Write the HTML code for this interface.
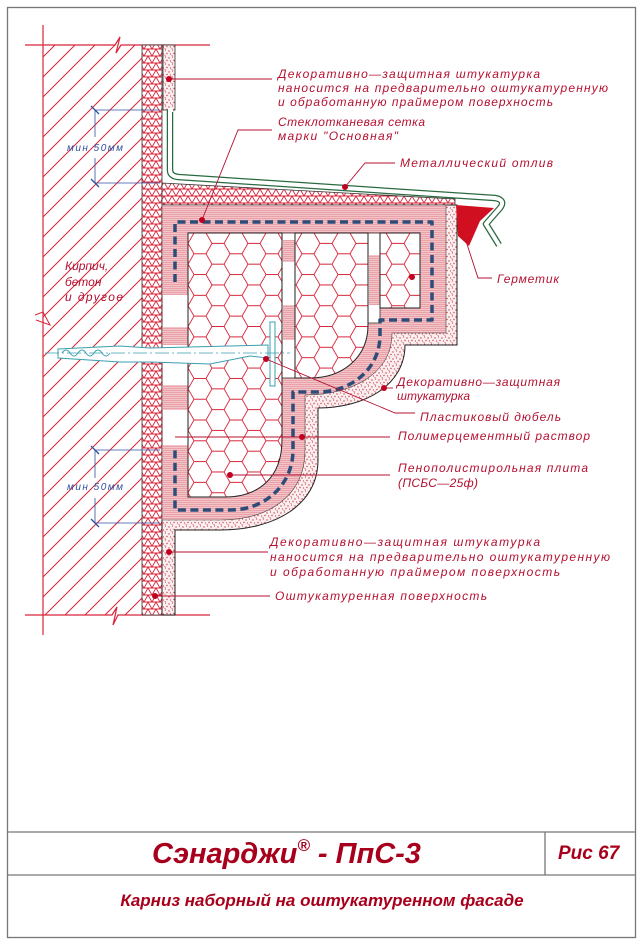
<!DOCTYPE html>
<html><head><meta charset="utf-8"><style>
html,body{margin:0;padding:0;background:#fff}
svg{display:block}
.t{font-family:"Liberation Sans",sans-serif;font-style:italic;font-size:12px;fill:#b41030}
</style></head><body>
<svg width="642" height="944" viewBox="0 0 642 944" xmlns="http://www.w3.org/2000/svg">
<defs>
<pattern id="hatch" width="20" height="20" patternUnits="userSpaceOnUse">
<path d="M-2,22 L22,-2 M-2,2 L2,-2 M18,22 L22,18" stroke="#d8253a" stroke-width="1"/>
</pattern>
<pattern id="tri" width="8" height="7" patternUnits="userSpaceOnUse">
<rect width="8" height="7" fill="#fff"/>
<path d="M0,0 L8,0 M0,7 L8,7 M0,7 L4,0 L8,7 M-4,0 L0,7 M8,0 L12,7" fill="none" stroke="#d8253a" stroke-width="0.9"/>
</pattern>
<pattern id="pinkl" width="4" height="2" patternUnits="userSpaceOnUse">
<rect width="4" height="2" fill="#f2c4c8"/>
<rect width="4" height="0.8" fill="#e79aa2"/>
</pattern>
<pattern id="speck" width="7" height="7" patternUnits="userSpaceOnUse">
<rect width="7" height="7" fill="#fbeeee"/>
<circle cx="1" cy="2" r="0.7" fill="#c84050"/><circle cx="4.5" cy="1" r="0.6" fill="#c84050"/>
<circle cx="6" cy="4.5" r="0.7" fill="#c84050"/><circle cx="2.5" cy="5" r="0.6" fill="#c84050"/>
<circle cx="4" cy="6.5" r="0.5" fill="#c84050"/>
</pattern>
<pattern id="hex" width="36" height="20.78" patternUnits="userSpaceOnUse" x="188" y="233">
<rect width="36" height="20.78" fill="#fff"/>
<path d="M0,10.39 L6,0 L18,0 L24,10.39 L18,20.78 L6,20.78 Z M24,10.39 L36,10.39" fill="none" stroke="#d8253a" stroke-width="0.9"/>
</pattern>
</defs>

<rect x="7.5" y="7.5" width="628" height="930" fill="none" stroke="#777" stroke-width="1.3"/>
<line x1="7" y1="832" x2="636" y2="832" stroke="#777" stroke-width="1.3"/>
<line x1="7" y1="875" x2="636" y2="875" stroke="#777" stroke-width="1.3"/>
<line x1="545" y1="832" x2="545" y2="875" stroke="#777" stroke-width="1.3"/>

<rect x="43" y="45" width="99" height="570" fill="url(#hatch)"/>
<line x1="43" y1="25" x2="43" y2="635" stroke="#d8253a" stroke-width="1.2"/>
<polyline points="25,45 115,45 120,37 116,53 121,45 210,45" fill="none" stroke="#d8253a" stroke-width="1.2"/>
<polyline points="25,615 112,615 117,607 113,625 118,615 210,615" fill="none" stroke="#d8253a" stroke-width="1.2"/>
<polyline points="35,315 43,312 50,325 36,320" fill="none" stroke="#d8253a" stroke-width="1"/>
<rect x="142" y="45" width="20" height="570" fill="url(#tri)" stroke="#333" stroke-width="0.8"/>
<rect x="163" y="45" width="12" height="65" fill="url(#speck)" stroke="#333" stroke-width="0.8"/>

<polygon points="162,183 455,199 455,205 162,205" fill="url(#tri)" stroke="#333" stroke-width="0.8"/>

<path d="M162,205 H457 V345 H405 C405,385 365,408 318,408 V460 C318,505 275,530 220,530 H175 V615 H162 Z" fill="url(#speck)" stroke="#222" stroke-width="1"/>
<path d="M162,205 H446 V333 H392 C392,375 350,395 305,395 V450 C305,495 270,520 220,520 H162 Z" fill="url(#pinkl)" stroke="#444" stroke-width="0.6"/>
<rect x="163" y="295" width="25" height="32" fill="#fff"/>
<rect x="163" y="345" width="25" height="40" fill="#fff"/>
<rect x="163" y="410" width="25" height="35" fill="#fff"/>
<rect x="282" y="233" width="13" height="145" fill="#fff" stroke="#333" stroke-width="0.8"/>
<rect x="283" y="240" width="12" height="22" fill="url(#pinkl)"/>
<rect x="283" y="305" width="12" height="35" fill="url(#pinkl)"/>
<rect x="368" y="233" width="12" height="90" fill="#fff" stroke="#333" stroke-width="0.8"/>
<rect x="369" y="255" width="11" height="50" fill="url(#pinkl)"/>
<path d="M188,233 H282 V440 C282,478 258,497 225,497 H188 Z" fill="url(#hex)" stroke="#222" stroke-width="1"/>
<path d="M295,233 H368 V325 C368,358 342,378 310,378 H295 Z" fill="url(#hex)" stroke="#222" stroke-width="1"/>
<rect x="380" y="233" width="40" height="75" fill="url(#hex)" stroke="#222" stroke-width="1"/>

<path d="M175,282 V222 H432 V320 H380 V335 C380,370 350,392 318,392 H293 V450 C293,485 265,510 230,510 H175 V448" fill="none" stroke="#2e4c78" stroke-width="3.5" stroke-dasharray="8 4.5" stroke-linejoin="round"/>

<path d="M170,110 V170 Q170,176 178,177 L495,198 Q506,200 500,208 L486,224 L499,245" fill="none" stroke="#2a6a40" stroke-width="6.5" stroke-linejoin="round"/>
<path d="M170,110 V170 Q170,176 178,177 L495,198 Q506,200 500,208 L486,224 L499,245" fill="none" stroke="#fff" stroke-width="4" stroke-linejoin="round"/>
<rect x="168" y="108" width="5" height="4" fill="#fff"/>
<polygon points="456,205 494,208 480,221 469,246 458,236" fill="#d01020"/>

<path d="M58,349 L120,346 L150,348 L268,345 L268,358 L250,356 L210,364 L150,362 L120,362 L58,358 Z" fill="#fff" stroke="#3aa0b0" stroke-width="1"/>
<path d="M62,353 q4,-6 8,0 q4,6 8,0 q4,-6 8,0 q4,6 8,0 q4,-6 8,0 q4,6 8,0" fill="none" stroke="#3aa0b0" stroke-width="1"/>
<rect x="270" y="322" width="5" height="64" fill="#fff" stroke="#3aa0b0" stroke-width="1"/>
<line x1="45" y1="353" x2="290" y2="353" stroke="#3aa0b0" stroke-width="0.8" stroke-dasharray="14 3 2 3"/>

<g stroke="#3050a0" stroke-width="0.8" fill="none">
<line x1="95" y1="110" x2="95" y2="137"/><line x1="95" y1="158" x2="95" y2="183"/>
<line x1="95" y1="110" x2="160" y2="110"/><line x1="95" y1="183" x2="160" y2="183"/>
<path d="M91,106 L99,114 M91,179 L99,187" stroke-width="1.3"/>
<line x1="95" y1="450" x2="95" y2="478"/><line x1="95" y1="498" x2="95" y2="523"/>
<line x1="95" y1="450" x2="160" y2="450"/><line x1="95" y1="523" x2="160" y2="523"/>
<path d="M91,446 L99,454 M91,519 L99,527" stroke-width="1.3"/>
</g>
<text x="67" y="151" class="t" style="fill:#3050a0;font-size:10px" textLength="56" lengthAdjust="spacing">мин 50мм</text>
<text x="67" y="490" class="t" style="fill:#3050a0;font-size:10px" textLength="56" lengthAdjust="spacing">мин 50мм</text>

<text x="65" y="270" class="t" font-size="13">Кирпич,</text>
<text x="65" y="286" class="t">бетон</text>
<text x="65" y="301" class="t" textLength="58" lengthAdjust="spacing">и другое</text>

<g stroke="#b41030" stroke-width="0.9" fill="none">
<line x1="169" y1="79" x2="272" y2="79"/>
<polyline points="202,220 238,130 272,130"/>
<polyline points="345,187 365,163 395,163"/>
<polyline points="465,238 478,278 492,278"/>
<line x1="384" y1="388" x2="393" y2="388"/>
<polyline points="266,359 395,413 415,413"/>
<line x1="175" y1="437" x2="390" y2="437"/>
<line x1="230" y1="475" x2="390" y2="475"/>
<line x1="169" y1="552" x2="268" y2="552"/>
<line x1="155" y1="596" x2="270" y2="596"/>
</g>
<g fill="#c00020">
<circle cx="169" cy="79" r="3"/><circle cx="202" cy="220" r="3"/><circle cx="345" cy="187" r="3"/>
<circle cx="412" cy="277" r="3"/><circle cx="384" cy="388" r="3"/><circle cx="266" cy="359" r="3"/>
<circle cx="302" cy="437" r="3"/><circle cx="230" cy="475" r="3"/><circle cx="169" cy="552" r="3"/>
<circle cx="155" cy="596" r="3"/>
</g>

<text x="278" y="78" class="t" textLength="262" lengthAdjust="spacing">Декоративно—защитная штукатурка</text>
<text x="278" y="92" class="t" textLength="330" lengthAdjust="spacing">наносится на предварительно оштукатуренную</text>
<text x="278" y="106" class="t" textLength="275" lengthAdjust="spacing">и обработанную праймером поверхность</text>
<text x="278" y="126" class="t" textLength="147" lengthAdjust="spacing">Стеклотканевая сетка</text>
<text x="278" y="140" class="t" textLength="120" lengthAdjust="spacing">марки "Основная"</text>
<text x="400" y="167" class="t" textLength="153" lengthAdjust="spacing">Металлический отлив</text>
<text x="497" y="283" class="t" textLength="62" lengthAdjust="spacing">Герметик</text>
<text x="397" y="386" class="t" textLength="163" lengthAdjust="spacing">Декоративно—защитная</text>
<text x="397" y="400" class="t" textLength="73" lengthAdjust="spacing">штукатурка</text>
<text x="420" y="421" class="t" textLength="141" lengthAdjust="spacing">Пластиковый дюбель</text>
<text x="398" y="440" class="t" textLength="192" lengthAdjust="spacing">Полимерцементный раствор</text>
<text x="398" y="472" class="t" textLength="190" lengthAdjust="spacing">Пенополистирольная плита</text>
<text x="398" y="487" class="t" textLength="80" lengthAdjust="spacing">(ПСБС—25ф)</text>
<text x="270" y="546" class="t" textLength="270" lengthAdjust="spacing">Декоративно—защитная штукатурка</text>
<text x="270" y="561" class="t" textLength="340" lengthAdjust="spacing">наносится на предварительно оштукатуренную</text>
<text x="270" y="576" class="t" textLength="290" lengthAdjust="spacing">и обработанную праймером поверхность</text>
<text x="275" y="600" class="t" textLength="212" lengthAdjust="spacing">Оштукатуренная поверхность</text>

<text x="152" y="863" font-family="Liberation Sans,sans-serif" font-weight="bold" font-style="italic" font-size="29" fill="#a8001c">Сэнарджи<tspan font-size="17" dy="-12">®</tspan><tspan dy="12"> - ПпС-3</tspan></text>
<text x="558" y="859" font-family="Liberation Sans,sans-serif" font-weight="bold" font-style="italic" font-size="19" fill="#a8001c">Рис 67</text>
<text x="322" y="906" text-anchor="middle" font-family="Liberation Sans,sans-serif" font-weight="bold" font-style="italic" font-size="17" fill="#a8001c">Карниз наборный на оштукатуренном фасаде</text>
</svg>
</body></html>
